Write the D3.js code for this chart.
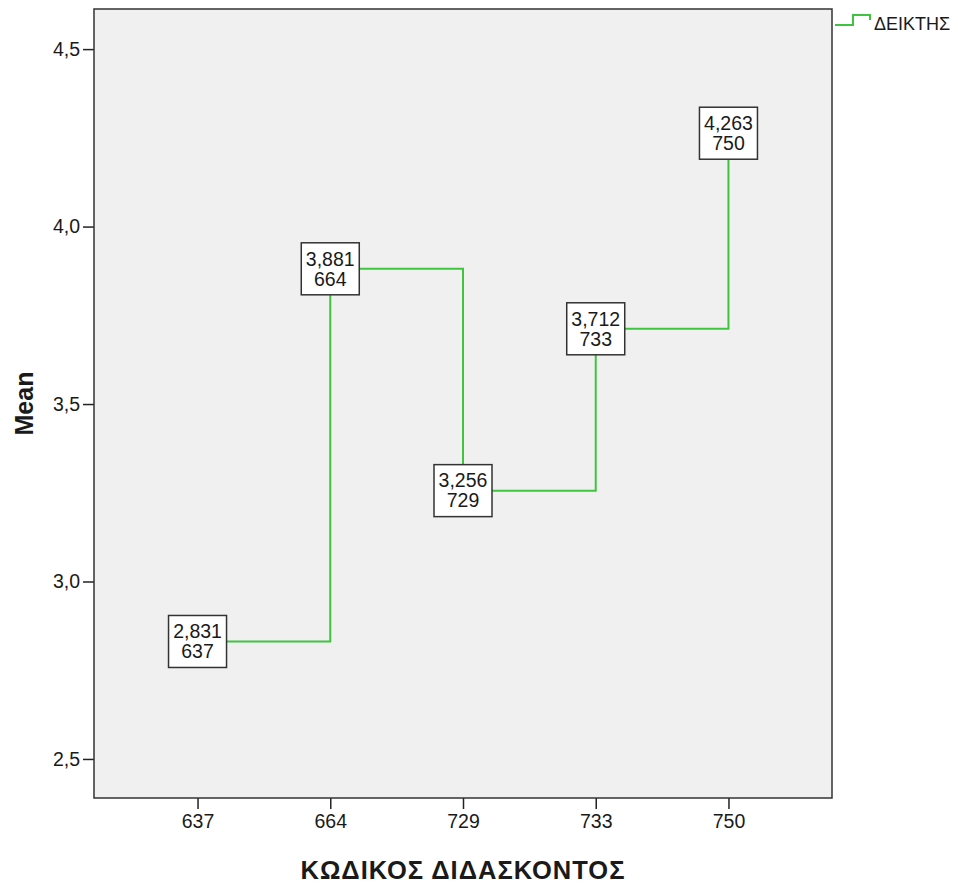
<!DOCTYPE html>
<html>
<head>
<meta charset="utf-8">
<script src="https://cdn.jsdelivr.net/npm/d3@7"></script>
<style>
  body { margin: 0; background: #ffffff; }
  text { font-family: "Liberation Sans", Arial, sans-serif; fill: #1a1a1a; }
</style>
</head>
<body>
<div id="chart"></div>
<script>
// teacher codes on the x axis
var teachers = ["637", "664", "729", "733", "750"];
// mean of the index per teacher
var means = [2.831, 3.881, 3.256, 3.712, 4.263];
// y tick values
var yTicks = [2.5, 3.0, 3.5, 4.0, 4.5];

var seriesName = "ΔΕΙΚΤΗΣ";
var xTitle = "ΚΩΔΙΚΟΣ ΔΙΔΑΣΚΟΝΤΟΣ";
var yTitle = "Mean";

var outerWidth = 958, outerHeight = 883;
var margin = {top: 9, right: 126, bottom: 85, left: 94};
var innerWidth = outerWidth - margin.left - margin.right;
var innerHeight = outerHeight - margin.top - margin.bottom;

var lineColor = "#3fc43f";

// greek-style decimal comma
var locale = d3.formatLocale({decimal: ",", thousands: ".", grouping: [3], currency: ["", "€"]});
var fmtTick = locale.format(".1f");
var fmtMean = locale.format(".3f");

var svg = d3.select("#chart")
  .append("svg")
  .attr("width", outerWidth)
  .attr("height", outerHeight);

var g = svg.append("g")
  .attr("transform", "translate(" + margin.left + "," + margin.top + ")");

//scales
var xScale = d3.scalePoint()
  .domain(teachers)
  .range([0, innerWidth])
  .padding(0.78);

var yScale = d3.scaleLinear()
  .domain([2.39, 4.613])
  .range([innerHeight, 0]);

//plot background
g.append("rect")
  .attr("width", innerWidth)
  .attr("height", innerHeight)
  .attr("fill", "#f0f0f0");

//axes
var xAxis = d3.axisBottom(xScale).tickSize(11).tickPadding(5);
var yAxis = d3.axisLeft(yScale).tickValues(yTicks).tickFormat(fmtTick).tickSize(11).tickPadding(3);

var gx = g.append("g")
  .attr("transform", "translate(0," + innerHeight + ")")
  .call(xAxis);

var gy = g.append("g").call(yAxis);

[gx, gy].forEach(function(a){
  a.select(".domain").remove();
  a.selectAll(".tick line").attr("stroke", "#222").attr("stroke-width", 1.5);
  a.selectAll(".tick text")
    .style("font-family", "'Liberation Sans', Arial, sans-serif")
    .style("font-size", "19.5px")
    .attr("fill", "#1a1a1a");
});

//frame
g.append("rect")
  .attr("width", innerWidth)
  .attr("height", innerHeight)
  .attr("fill", "none")
  .attr("stroke", "#333")
  .attr("stroke-width", 1.5);

//step line
var pts = teachers.map(function(t, i){ return [t, means[i]]; });

var line = d3.line()
  .x(function(d){ return xScale(d[0]); })
  .y(function(d){ return yScale(d[1]); })
  .curve(d3.curveStepAfter);

g.append("path")
  .datum(pts)
  .attr("fill", "none")
  .attr("stroke", lineColor)
  .attr("stroke-width", 2)
  .attr("d", line);

//value labels
var boxW = 58, boxH = 52;
var lbl = g.selectAll(".lbl")
  .data(pts)
  .enter()
  .append("g")
  .attr("class", "lbl")
  .attr("transform", function(d){ return "translate(" + xScale(d[0]) + "," + yScale(d[1]) + ")"; });

lbl.append("rect")
  .attr("x", -boxW / 2)
  .attr("y", -boxH / 2)
  .attr("width", boxW)
  .attr("height", boxH)
  .attr("fill", "#ffffff")
  .attr("stroke", "#333")
  .attr("stroke-width", 1.5);

lbl.append("text")
  .attr("text-anchor", "middle")
  .attr("y", -10)
  .attr("dy", "0.35em")
  .style("font-size", "19.5px")
  .text(function(d){ return fmtMean(d[1]); });

lbl.append("text")
  .attr("text-anchor", "middle")
  .attr("y", 10)
  .attr("dy", "0.35em")
  .style("font-size", "19.5px")
  .text(function(d){ return d[0]; });

//axis titles
svg.append("text")
  .attr("transform", "translate(33," + (margin.top + innerHeight / 2) + ") rotate(-90)")
  .attr("text-anchor", "middle")
  .style("font-size", "25px")
  .style("font-weight", "bold")
  .text(yTitle);

svg.append("text")
  .attr("x", margin.left + innerWidth / 2)
  .attr("y", 879)
  .attr("text-anchor", "middle")
  .style("font-size", "25.5px")
  .style("font-weight", "bold")
  .style("letter-spacing", "1px")
  .text(xTitle);

//legend
var legend = svg.append("g")
  .attr("transform", "translate(" + (margin.left + innerWidth + 3) + ",0)");

legend.append("path")
  .attr("d", "M0,25H18V15H35V20")
  .attr("fill", "none")
  .attr("stroke", lineColor)
  .attr("stroke-width", 2);

legend.append("text")
  .attr("x", 39)
  .attr("y", 30)
  .style("font-size", "18px")
  .text(seriesName);
</script>
</body>
</html>
